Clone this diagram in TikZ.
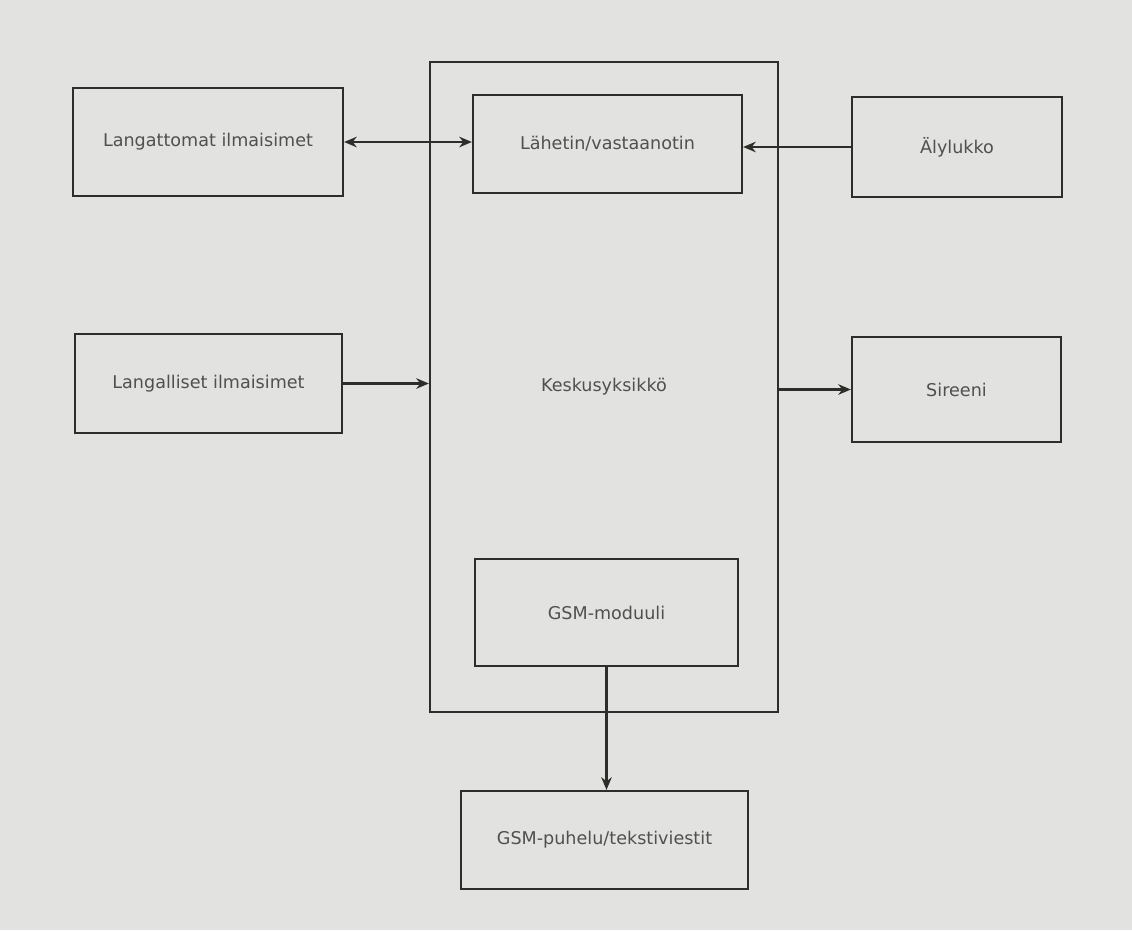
\documentclass[tikz,border=0pt]{standalone}
\usepackage{fontspec}
\setmainfont{DejaVu Sans}
\usetikzlibrary{arrows.meta}
\definecolor{paper}{RGB}{226,226,224}
\definecolor{ink}{RGB}{45,45,42}
\definecolor{txt}{RGB}{80,80,80}
\tikzset{
	blok/.style={draw=ink, line width=1.6pt, rectangle, inner sep=0pt, text=txt, font=\fontsize{12.5}{15}\selectfont},
	nuoli/.style={draw=ink, line width=1.5pt},
	karki/.tip={Stealth[length=9pt, width=7.5pt]}
}

\begin{document}
\begin{tikzpicture}[x=0.025cm, y=-0.025cm]
	% paper, 1132 x 930 px
	\fill[paper] (0, 0) rectangle (1132, 930);
	\useasboundingbox (0, 0) rectangle (1132, 930);
	% central unit
	\node[blok, minimum width=348*0.025cm, minimum height=650*0.025cm] (keskus) at (604, 387) {Keskusyksikkö};
	\node[blok, minimum width=269*0.025cm, minimum height=98*0.025cm] (lahetin) at (607.5, 144) {Lähetin/vastaanotin};
	\node[blok, minimum width=263*0.025cm, minimum height=107*0.025cm] (gsm) at (606.5, 612.5) {GSM-moduuli};
	% left side
	\node[blok, minimum width=270*0.025cm, minimum height=108*0.025cm] (langattomat) at (208, 142) {Langattomat ilmaisimet};
	\node[blok, minimum width=267*0.025cm, minimum height=99*0.025cm] (langalliset) at (208.5, 383.5) {Langalliset ilmaisimet};
	% right side
	\node[blok, minimum width=210*0.025cm, minimum height=100*0.025cm] (alylukko) at (957, 147) {Älylukko};
	\node[blok, minimum width=209*0.025cm, minimum height=105*0.025cm] (sireeni) at (956.5, 389.5) {Sireeni};
	% bottom
	\node[blok, minimum width=287*0.025cm, minimum height=98*0.025cm] (puhelu) at (604.5, 840) {GSM-puhelu/tekstiviestit};
	
	% connections
	\draw[nuoli, karki-karki] (langattomat.east) -- (langattomat.east -| lahetin.west);
	\draw[nuoli, -karki] (alylukko.west) -- (alylukko.west -| lahetin.east);
	\draw[nuoli, -karki] (langalliset.east) -- (langalliset.east -| keskus.west);
	\draw[nuoli, -karki] (sireeni.west -| keskus.east) -- (sireeni.west);
	\draw[nuoli, -karki] (gsm.south) -- (gsm.south |- puhelu.north);
\end{tikzpicture}
\end{document}
